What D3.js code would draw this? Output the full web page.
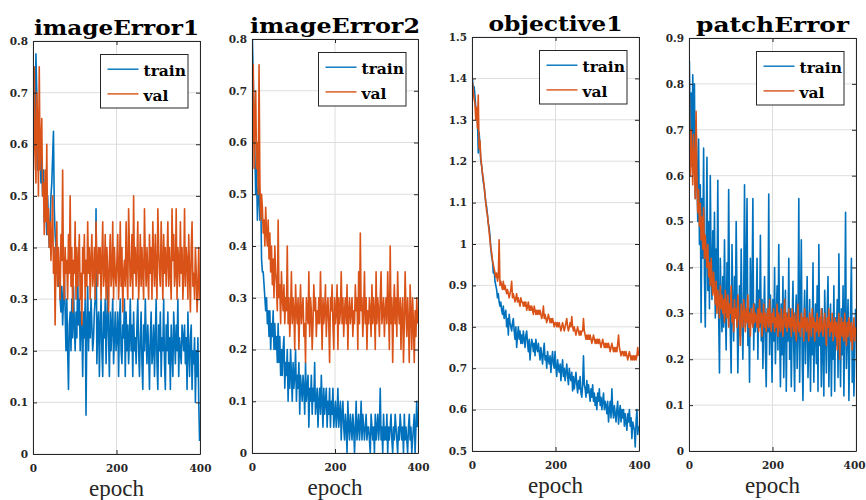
<!DOCTYPE html>
<html>
<head>
<meta charset="utf-8">
<script src="https://cdn.jsdelivr.net/npm/d3@7"></script>
<style>
  body { margin: 0; background: #fff; }
  svg { display: block; }
</style>
</head>
<body>
<svg id="fig" width="866" height="500"></svg>
<script>
// Training log: one value every other epoch (epochs 1, 3, ..., 399)
const epochs = d3.range(1, 400, 2);

const imageError1Train = [
  .65,.725,.6,.775,.7,.55,.65,.625,.6,.525,.575,.5,.55,.45,.525,.475,.425,.5,.45,.4,
  .45,.5,.525,.575,.625,.475,.425,.4,.35,.375,.325,.35,.3,.275,.325,.25,.3,.35,.275,.2,
  .3,.2,.125,.25,.275,.2,.3,.225,.325,.25,.2,.275,.225,.35,.25,.3,.2,.275,.25,.15,
  .275,.225,.3,.075,.25,.325,.2,.275,.225,.3,.25,.2,.225,.275,.3,.475,.175,.25,.275,.15,
  .25,.3,.2,.15,.275,.225,.3,.175,.25,.325,.225,.15,.275,.2,.25,.3,.175,.225,.275,.2,
  .225,.275,.15,.25,.3,.2,.175,.25,.225,.3,.15,.275,.2,.25,.175,.225,.3,.2,.25,.15,
  .275,.2,.225,.175,.25,.3,.2,.15,.225,.275,.175,.125,.25,.2,.3,.225,.175,.25,.2,.125,
  .225,.275,.175,.2,.25,.15,.225,.3,.175,.125,.25,.2,.275,.15,.225,.2,.3,.175,.125,.25,
  .2,.275,.175,.225,.125,.25,.2,.15,.275,.225,.175,.25,.2,.3,.15,.225,.2,.175,.25,.225,
  .2,.25,.175,.225,.125,.275,.2,.15,.225,.25,.125,.2,.175,.225,.1,.2,.15,.225,.1,.025
];
const imageError1Val = [
  .55,.75,.6,.525,.7,.65,.5,.75,.55,.6,.65,.5,.525,.425,.55,.45,.6,.425,.475,.4,
  .45,.375,.425,.5,.35,.4,.25,.375,.45,.325,.4,.35,.3,.425,.375,.55,.35,.3,.4,.35,
  .375,.3,.425,.35,.5,.325,.4,.275,.375,.35,.45,.3,.4,.325,.375,.425,.3,.35,.25,.4,
  .35,.425,.3,.375,.325,.45,.35,.4,.3,.375,.425,.325,.35,.4,.3,.45,.375,.325,.4,.35,
  .4,.3,.375,.45,.325,.35,.425,.3,.4,.35,.275,.375,.425,.325,.35,.45,.3,.4,.35,.325,
  .375,.425,.3,.35,.45,.325,.4,.275,.35,.375,.325,.45,.35,.3,.475,.4,.325,.35,.425,.3,
  .5,.35,.4,.325,.375,.45,.3,.35,.425,.325,.4,.35,.3,.475,.375,.325,.4,.35,.3,.425,
  .35,.4,.3,.45,.375,.325,.425,.35,.3,.475,.4,.35,.325,.45,.375,.3,.425,.35,.4,.325,
  .375,.45,.325,.4,.35,.3,.475,.375,.425,.325,.35,.475,.3,.4,.375,.325,.45,.35,.4,.3,
  .35,.475,.325,.4,.375,.3,.425,.35,.275,.4,.45,.325,.35,.3,.4,.35,.275,.325,.4,.3
];

const imageError2Train = [
  .8,.725,.65,.575,.5,.55,.45,.5,.525,.45,.5,.375,.35,.35,.325,.3,.275,.3,.25,.275,
  .225,.275,.2,.25,.225,.275,.2,.25,.2,.225,.175,.25,.175,.225,.15,.2,.15,.2,.225,.125,
  .175,.15,.2,.1,.175,.125,.2,.15,.1,.175,.125,.15,.2,.1,.15,.125,.175,.075,.15,.125,
  .1,.15,.125,.075,.175,.1,.125,.15,.05,.125,.1,.15,.075,.125,.1,.175,.075,.1,.125,.05,
  .1,.125,.075,.15,.1,.05,.125,.075,.1,.125,.05,.1,.075,.125,.05,.1,.075,.125,.05,.075,
  .1,.05,.075,.125,.05,.075,.1,.025,.075,.1,.05,.025,.075,.05,0,.1,.05,.025,.075,.05,
  .025,.075,.05,0,.05,.1,.025,.05,.075,.025,.05,.1,.025,.075,.05,.025,.05,.075,.025,.05,
  .05,.025,0,.075,.05,.025,.05,0,.075,.025,.05,.075,.025,.05,.125,.025,.05,0,.075,.025,
  .05,.025,.075,0,.05,.025,.05,.075,.025,0,.05,.025,.075,.05,.025,0,.05,.025,.075,.05,
  .025,.05,0,.075,.025,.05,.025,0,.05,.075,.025,.05,0,.025,.05,.075,0,.05,.1,.05
];
const imageError2Val = [
  .6,.75,.55,.65,.7,.55,.6,.5,.75,.525,.45,.5,.475,.425,.45,.4,.475,.425,.4,.45,
  .375,.425,.35,.4,.325,.375,.3,.4,.35,.325,.275,.45,.3,.325,.25,.35,.3,.275,.325,.25,
  .3,.275,.4,.25,.3,.225,.275,.35,.25,.3,.275,.2,.325,.275,.25,.3,.2,.275,.325,.25,
  .275,.3,.225,.25,.175,.3,.275,.25,.35,.225,.3,.275,.2,.25,.325,.275,.3,.225,.275,.25,
  .3,.25,.35,.275,.2,.3,.25,.275,.325,.225,.275,.3,.25,.175,.3,.275,.325,.25,.2,.3,
  .25,.275,.325,.2,.3,.25,.275,.35,.25,.3,.225,.275,.3,.25,.325,.2,.275,.3,.25,.275,
  .3,.225,.275,.25,.325,.275,.3,.2,.35,.25,.425,.275,.3,.225,.275,.35,.25,.3,.2,.275,
  .25,.3,.275,.225,.325,.25,.3,.275,.2,.35,.25,.3,.275,.225,.3,.35,.25,.275,.3,.225,
  .275,.3,.25,.35,.275,.2,.4,.25,.3,.175,.275,.325,.25,.3,.225,.35,.275,.25,.3,.2,
  .275,.3,.175,.25,.35,.275,.225,.3,.25,.175,.325,.275,.2,.3,.25,.175,.275,.225,.3,.25
];

const objective1Train = [
  1.40,1.37,1.38,1.36,1.33,1.30,1.31,1.22,1.27,1.24,1.20,1.19,1.17,1.15,1.14,1.12,1.10,1.09,1.07,1.05,
  1.04,1.02,0.99,0.97,0.96,0.93,0.94,0.91,0.90,0.89,0.87,0.88,0.86,0.85,0.86,0.84,0.83,0.85,0.82,0.83,
  0.84,0.80,0.82,0.78,0.83,0.81,0.80,0.79,0.81,0.82,0.79,0.77,0.80,0.75,0.78,0.80,0.77,0.79,0.76,0.78,
  0.76,0.79,0.77,0.75,0.78,0.79,0.76,0.74,0.77,0.72,0.75,0.77,0.76,0.74,0.76,0.73,0.77,0.75,0.74,0.76,
  0.74,0.72,0.75,0.73,0.71,0.74,0.76,0.72,0.73,0.70,0.74,0.72,0.71,0.73,0.69,0.72,0.74,0.71,0.70,0.74,
  0.70,0.68,0.72,0.70,0.69,0.71,0.67,0.70,0.72,0.68,0.70,0.67,0.69,0.71,0.68,0.66,0.70,0.68,0.67,0.69,
  0.645,0.68,0.65,0.67,0.69,0.66,0.64,0.67,0.65,0.68,0.64,0.63,0.66,0.73,0.66,0.65,0.63,0.67,0.64,0.66,
  0.64,0.62,0.65,0.63,0.66,0.62,0.64,0.61,0.63,0.60,0.64,0.62,0.65,0.61,0.63,0.60,0.62,0.64,0.60,0.62,
  0.61,0.59,0.62,0.57,0.60,0.62,0.58,0.65,0.60,0.58,0.61,0.59,0.57,0.60,0.62,0.565,0.59,0.61,0.57,0.60,
  0.58,0.60,0.56,0.59,0.57,0.55,0.59,0.57,0.60,0.56,0.58,0.53,0.57,0.56,0.55,0.51,0.57,0.60,0.54,0.56
];
const objective1Val = [
  1.39,1.37,1.35,1.34,1.30,1.33,1.28,1.36,1.23,1.25,1.21,1.19,1.17,1.16,1.14,1.12,1.10,1.08,1.07,1.05,
  1.03,1.01,0.99,0.98,0.96,0.95,0.94,0.93,0.92,0.93,0.91,0.92,1.01,0.90,0.91,0.90,0.89,0.91,0.89,0.90,
  0.89,0.88,0.89,0.88,0.87,0.88,0.89,0.91,0.87,0.88,0.87,0.86,0.87,0.88,0.86,0.87,0.86,0.85,0.87,0.86,
  0.86,0.85,0.86,0.85,0.86,0.84,0.85,0.86,0.84,0.85,0.84,0.85,0.84,0.83,0.85,0.84,0.83,0.84,0.83,0.84,
  0.83,0.84,0.83,0.82,0.83,0.85,0.82,0.83,0.82,0.81,0.82,0.83,0.82,0.81,0.82,0.81,0.82,0.81,0.80,0.81,
  0.81,0.80,0.81,0.80,0.81,0.80,0.79,0.80,0.81,0.80,0.79,0.80,0.81,0.82,0.80,0.79,0.80,0.81,0.80,0.825,
  0.80,0.79,0.80,0.79,0.78,0.79,0.80,0.79,0.78,0.79,0.78,0.79,0.79,0.82,0.79,0.78,0.77,0.78,0.77,0.78,
  0.77,0.78,0.77,0.76,0.77,0.78,0.77,0.76,0.77,0.76,0.77,0.76,0.77,0.76,0.75,0.76,0.77,0.76,0.75,0.76,
  0.75,0.76,0.75,0.76,0.75,0.74,0.75,0.76,0.75,0.74,0.75,0.74,0.75,0.74,0.76,0.78,0.75,0.74,0.73,0.74,
  0.74,0.73,0.74,0.73,0.74,0.73,0.72,0.73,0.74,0.73,0.72,0.73,0.72,0.73,0.72,0.73,0.72,0.73,0.75,0.73
];

const patchErrorTrain = [
  0.85,0.70,0.78,0.62,0.82,0.66,0.80,0.55,0.72,0.60,0.50,0.68,0.45,0.58,0.28,0.55,0.42,0.66,0.38,0.27,
  0.45,0.64,0.35,0.50,0.31,0.60,0.40,0.33,0.48,0.36,0.52,0.29,0.44,0.34,0.59,0.30,0.17,0.42,0.33,0.26,
  0.38,0.27,0.46,0.32,0.22,0.41,0.30,0.57,0.35,0.26,0.17,0.45,0.31,0.24,0.38,0.29,0.50,0.33,0.17,0.28,
  0.36,0.25,0.44,0.30,0.20,0.33,0.58,0.27,0.39,0.55,0.23,0.31,0.15,0.42,0.28,0.34,0.55,0.22,0.32,0.26,
  0.30,0.42,0.20,0.35,0.27,0.47,0.24,0.33,0.18,0.29,0.38,0.22,0.14,0.31,0.26,0.56,0.21,0.34,0.28,0.15,
  0.33,0.24,0.40,0.19,0.29,0.36,0.22,0.45,0.27,0.14,0.32,0.21,0.38,0.16,0.28,0.35,0.13,0.30,0.24,0.42,
  0.20,0.31,0.14,0.27,0.37,0.22,0.13,0.29,0.34,0.18,0.26,0.55,0.15,0.30,0.46,0.21,0.11,0.28,0.35,0.19,
  0.27,0.38,0.16,0.24,0.33,0.13,0.29,0.21,0.41,0.15,0.26,0.32,0.19,0.36,0.13,0.45,0.23,0.28,0.14,0.31,
  0.22,0.12,0.35,0.26,0.17,0.30,0.38,0.14,0.24,0.32,0.12,0.27,0.20,0.36,0.13,0.29,0.23,0.33,0.16,0.43,
  0.25,0.14,0.31,0.21,0.36,0.12,0.28,0.52,0.18,0.26,0.33,0.11,0.24,0.30,0.42,0.15,0.27,0.12,0.22,0.31
];
const patchErrorVal = [
  0.77,0.60,0.70,0.64,0.58,0.69,0.62,0.55,0.74,0.60,0.52,0.57,0.49,0.54,0.46,0.51,0.44,0.53,0.42,0.47,
  0.43,0.40,0.45,0.38,0.41,0.36,0.42,0.37,0.34,0.39,0.35,0.32,0.37,0.30,0.35,0.33,0.29,0.36,0.31,0.34,
  0.30,0.33,0.28,0.35,0.31,0.29,0.34,0.27,0.32,0.30,0.36,0.28,0.31,0.26,0.33,0.29,0.31,0.27,0.34,0.30,
  0.28,0.23,0.32,0.29,0.27,0.33,0.30,0.26,0.31,0.28,0.34,0.27,0.30,0.25,0.31,0.29,0.27,0.32,0.28,0.30,
  0.29,0.27,0.31,0.26,0.33,0.28,0.30,0.25,0.29,0.32,0.27,0.30,0.26,0.29,0.31,0.27,0.33,0.28,0.26,0.30,
  0.28,0.31,0.26,0.29,0.27,0.32,0.25,0.30,0.28,0.26,0.31,0.28,0.25,0.29,0.33,0.27,0.30,0.26,0.28,0.31,
  0.27,0.29,0.25,0.31,0.28,0.26,0.30,0.27,0.24,0.29,0.32,0.26,0.28,0.25,0.30,0.27,0.29,0.24,0.31,0.28,
  0.26,0.29,0.27,0.24,0.30,0.28,0.25,0.31,0.27,0.29,0.24,0.28,0.26,0.30,0.27,0.25,0.29,0.26,0.31,0.27,
  0.25,0.28,0.30,0.26,0.23,0.29,0.27,0.31,0.25,0.28,0.26,0.30,0.24,0.27,0.29,0.25,0.28,0.22,0.27,0.30,
  0.20,0.27,0.29,0.25,0.28,0.24,0.30,0.26,0.23,0.28,0.25,0.29,0.27,0.24,0.28,0.22,0.26,0.29,0.24,0.27
];

// Tick values
const epochTicks = [0, 200, 400];
const errorTicks = [0, 0.1, 0.2, 0.3, 0.4, 0.5, 0.6, 0.7, 0.8];
const objectiveTicks = [0.5, 0.6, 0.7, 0.8, 0.9, 1, 1.1, 1.2, 1.3, 1.4, 1.5];
const patchTicks = [0, 0.1, 0.2, 0.3, 0.4, 0.5, 0.6, 0.7, 0.8, 0.9];

const seriesNames = ["train", "val"];
const seriesColors = ["#0072BD", "#D95319"];

// Subplot frames: [left, top, right, bottom] and title width
const panels = [
  { title: "imageError1", train: imageError1Train, val: imageError1Val,
    yDomain: [0, 0.8], yTicks: errorTicks, frame: [33, 41, 200, 454], titleW: 165 },
  { title: "imageError2", train: imageError2Train, val: imageError2Val,
    yDomain: [0, 0.8], yTicks: errorTicks, frame: [252, 39, 418, 453], titleW: 170 },
  { title: "objective1", train: objective1Train, val: objective1Val,
    yDomain: [0.5, 1.5], yTicks: objectiveTicks, frame: [472, 37, 639, 451], titleW: 134 },
  { title: "patchError", train: patchErrorTrain, val: patchErrorVal,
    yDomain: [0, 0.9], yTicks: patchTicks, frame: [689, 38, 856, 451], titleW: 153 }
];

const W = 866;
const svg = d3.select("#fig");
const boldFont = "'DejaVu Serif', serif";
const labelFont = "'Liberation Serif', 'DejaVu Serif', serif";
const ink = "#262626";
const gridInk = "#dedede";
const fmt = d3.format("~g");

panels.forEach((p, i) => {
  const [x0, y0, x1, y1] = p.frame;
  const x = d3.scaleLinear().domain([0, 400]).range([x0, x1]);
  const y = d3.scaleLinear().domain(p.yDomain).range([y1, y0]);
  const g = svg.append("g");

  // grid
  g.append("g").selectAll("line").data(p.yTicks).join("line")
    .attr("x1", x0).attr("x2", x1)
    .attr("y1", d => y(d)).attr("y2", d => y(d))
    .attr("stroke", gridInk).attr("stroke-width", 1);
  g.append("g").selectAll("line").data(epochTicks).join("line")
    .attr("y1", y0).attr("y2", y1)
    .attr("x1", d => x(d)).attr("x2", d => x(d))
    .attr("stroke", gridInk).attr("stroke-width", 1);

  // data lines, clipped to the axes
  const clipId = "clip" + i;
  svg.append("clipPath").attr("id", clipId).append("rect")
    .attr("x", x0).attr("y", y0).attr("width", x1 - x0).attr("height", y1 - y0);
  const line = d3.line().x((d, j) => x(epochs[j])).y(d => y(d));
  const lines = g.append("g").attr("clip-path", `url(#${clipId})`);
  [p.train, p.val].forEach((s, k) => {
    lines.append("path").datum(s)
      .attr("d", line)
      .attr("fill", "none")
      .attr("stroke", seriesColors[k])
      .attr("stroke-width", 1.6)
      .attr("stroke-linejoin", "round");
  });

  // axes box with inward ticks on all sides
  const styleAxis = sel => {
    sel.select(".domain").attr("stroke", ink).attr("stroke-width", 1);
    sel.selectAll(".tick line").attr("stroke", ink).attr("stroke-width", 1);
    sel.selectAll("text")
      .attr("fill", ink)
      .attr("font-family", boldFont)
      .attr("font-weight", "bold")
      .attr("font-size", 10.5);
  };
  g.append("g").attr("transform", `translate(${x0},0)`)
    .call(d3.axisLeft(y).tickValues(p.yTicks).tickSize(-4).tickSizeOuter(0)
      .tickPadding(5).tickFormat(fmt))
    .call(styleAxis);
  g.append("g").attr("transform", `translate(${x1},0)`)
    .call(d3.axisRight(y).tickValues(p.yTicks).tickSize(-4).tickSizeOuter(0)
      .tickFormat(""))
    .call(styleAxis);
  const bottom = g.append("g").attr("transform", `translate(0,${y1})`)
    .call(d3.axisBottom(x).tickValues(epochTicks).tickSize(-4).tickSizeOuter(0)
      .tickPadding(11).tickFormat(fmt))
    .call(styleAxis);
  // keep the last epoch label inside the figure
  bottom.selectAll(".tick text").each(function () {
    const b = this.getBBox();
    const gx = d3.select(this.parentNode).datum();
    const right = x(gx) + b.x + b.width;
    if (right > W - 1) d3.select(this).attr("x", (W - 1) - right);
  });
  g.append("g").attr("transform", `translate(0,${y0})`)
    .call(d3.axisTop(x).tickValues(epochTicks).tickSize(-4).tickSizeOuter(0)
      .tickFormat(""))
    .call(styleAxis);

  // title
  g.append("text")
    .attr("x", (x0 + x1) / 2).attr("y", y0 - 6)
    .attr("text-anchor", "middle")
    .attr("font-family", boldFont).attr("font-weight", "bold")
    .attr("font-size", 21)
    .attr("textLength", p.titleW).attr("lengthAdjust", "spacingAndGlyphs")
    .attr("fill", "#000")
    .text(p.title);

  // x label
  g.append("text")
    .attr("x", (x0 + x1) / 2).attr("y", y1 + 42)
    .attr("text-anchor", "middle")
    .attr("font-family", labelFont)
    .attr("font-size", 23)
    .attr("fill", ink)
    .text("epoch");

  // legend
  const lw = 87.5, lh = 53.5;
  const lx = x1 - 12 - lw, ly = y0 + 13.5;
  const leg = g.append("g").attr("transform", `translate(${lx},${ly})`);
  leg.append("rect").attr("width", lw).attr("height", lh)
    .attr("fill", "#fff").attr("stroke", ink).attr("stroke-width", 1);
  seriesNames.forEach((name, k) => {
    const cy = 14.7 + k * 24.7;
    leg.append("line").attr("x1", 7).attr("x2", 38).attr("y1", cy).attr("y2", cy)
      .attr("stroke", seriesColors[k]).attr("stroke-width", 1.4);
    leg.append("text").attr("x", 43).attr("y", cy + 7)
      .attr("font-family", boldFont).attr("font-weight", "bold")
      .attr("font-size", 15.5).attr("fill", "#000")
      .text(name);
  });
});
</script>
</body>
</html>
